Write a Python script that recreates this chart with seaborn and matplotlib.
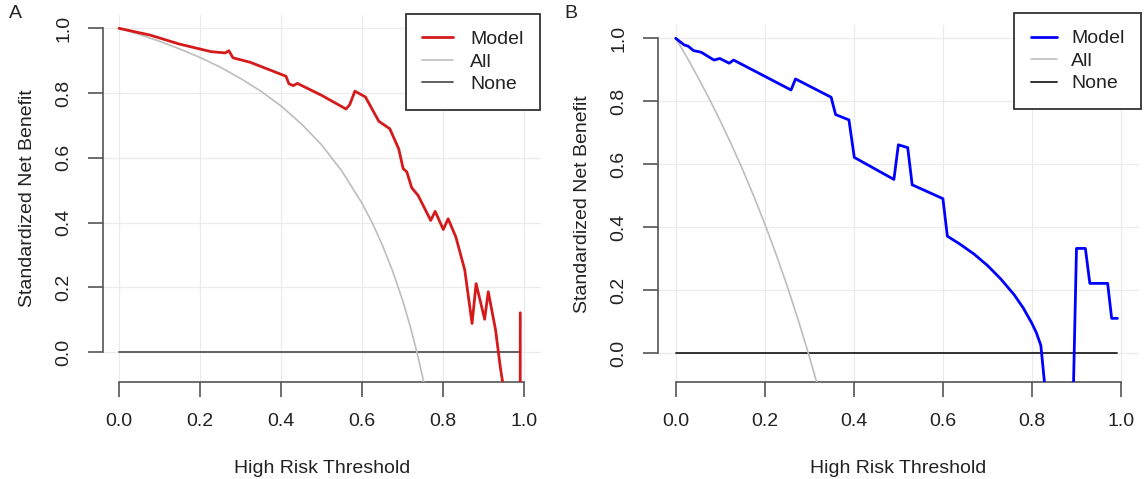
import matplotlib
matplotlib.use("Agg")
import matplotlib.pyplot as plt
import seaborn as sns

sns.set_style("whitegrid")
plt.rcParams["font.family"] = ["Liberation Sans", "DejaVu Sans"]

# Panel A values
A_MODEL_X = [0.0, 0.077, 0.147, 0.2, 0.227, 0.262, 0.271, 0.281, 0.324, 0.412, 0.419, 0.43,
             0.44, 0.5, 0.56, 0.569, 0.582, 0.608, 0.641, 0.668, 0.69, 0.701, 0.71, 0.722,
             0.738, 0.769, 0.78, 0.8, 0.812, 0.831, 0.853, 0.871, 0.881, 0.902, 0.911,
             0.929, 0.941, 0.95, 0.96, 0.975, 0.989, 0.99]
A_MODEL_Y = [1.0, 0.979, 0.952, 0.936, 0.928, 0.924, 0.931, 0.909, 0.895, 0.852, 0.829, 0.823,
             0.830, 0.793, 0.751, 0.764, 0.806, 0.788, 0.713, 0.690, 0.628, 0.567, 0.557, 0.508,
             0.484, 0.407, 0.435, 0.379, 0.412, 0.356, 0.254, 0.089, 0.212, 0.102, 0.187,
             0.069, -0.049, -0.12, -0.4, -0.8, -1.2, 0.122]
A_ALL_X = [0.0, 0.05, 0.1, 0.15, 0.2, 0.25, 0.3, 0.35, 0.4, 0.45, 0.5, 0.55, 0.6, 0.625,
           0.65, 0.675, 0.7, 0.72, 0.735, 0.75, 0.76]
A_ALL_Y = [1.0, 0.981, 0.960, 0.936, 0.910, 0.880, 0.845, 0.806, 0.760, 0.705, 0.640, 0.559,
           0.459, 0.399, 0.330, 0.251, 0.159, 0.073, 0.0, -0.082, -0.142]

# Panel B values
B_MODEL_X = [0.0, 0.019, 0.028, 0.04, 0.057, 0.086, 0.099, 0.12, 0.13, 0.259, 0.269, 0.349,
             0.359, 0.389, 0.401, 0.49, 0.5, 0.521, 0.531, 0.6, 0.61, 0.64, 0.67, 0.70,
             0.73, 0.76, 0.78, 0.80, 0.81, 0.82, 0.83, 0.86, 0.893, 0.9, 0.92, 0.93, 0.97,
             0.979, 0.992]
B_MODEL_Y = [1.0, 0.979, 0.975, 0.961, 0.956, 0.931, 0.936, 0.921, 0.931, 0.836, 0.871, 0.813,
             0.758, 0.741, 0.622, 0.552, 0.662, 0.653, 0.535, 0.491, 0.372, 0.345, 0.315, 0.279,
             0.236, 0.186, 0.145, 0.095, 0.065, 0.025, -0.12, -0.6, -0.12, 0.333, 0.333, 0.222,
             0.222, 0.111, 0.111]
B_ALL_X = [0.0, 0.025, 0.05, 0.075, 0.1, 0.125, 0.15, 0.175, 0.2, 0.225, 0.25, 0.275, 0.3, 0.32]
B_ALL_Y = [1.0, 0.940, 0.876, 0.809, 0.738, 0.663, 0.584, 0.500, 0.411, 0.316, 0.215, 0.106,
           -0.010, -0.109]

NONE_X = [0.0, 0.99]
NONE_Y = [0.0, 0.0]

TICKS = [0.0, 0.2, 0.4, 0.6, 0.8, 1.0]
TICK_LABELS = ["0.0", "0.2", "0.4", "0.6", "0.8", "1.0"]

FS = 14
AXIS_COL = "#555555"
TEXT_COL = "#222222"


def style_axes(ax):
    ax.set_xlim(-0.04, 1.04)
    ax.set_ylim(-0.092, 1.042)
    ax.set_xticks(TICKS)
    ax.set_yticks(TICKS)
    ax.set_xticklabels(TICK_LABELS, fontsize=FS, color=TEXT_COL)
    ax.set_yticklabels(TICK_LABELS, fontsize=FS, color=TEXT_COL, rotation=90, va="center")
    ax.grid(True, color="#EBEBEB", lw=0.9)
    for s in ["top", "right"]:
        ax.spines[s].set_visible(False)
    for s in ["left", "bottom"]:
        ax.spines[s].set_visible(True)
        ax.spines[s].set_color(AXIS_COL)
        ax.spines[s].set_linewidth(1.2)
        ax.spines[s].set_bounds(0, 1)
    ax.tick_params(axis="both", direction="out", length=11, width=1.2, color=AXIS_COL,
                   pad=11, left=True, bottom=True)
    ax.set_xlabel("High Risk Threshold", fontsize=FS, color=TEXT_COL, labelpad=22)
    ax.set_ylabel("Standardized Net Benefit", fontsize=FS, color=TEXT_COL, labelpad=14)


fig = plt.figure(figsize=(11.45, 4.79), dpi=100)
axA = fig.add_axes([0.0898, 0.2023, 0.3823, 0.767])
axB = fig.add_axes([0.5746, 0.2019, 0.42, 0.7457])

panels = [
    (axA, A_MODEL_X, A_MODEL_Y, A_ALL_X, A_ALL_Y, "#D41A1A", "#555555",
     (0.4716, 0.9708), "upper right", 1.55, 0.9),
    (axB, B_MODEL_X, B_MODEL_Y, B_ALL_X, B_ALL_Y, "#0000FF", "#222222",
     (0.8856, 0.9722), "upper left", 1.35, 0.75),
]

for ax, mx, my, ax_x, ax_y, mcol, ncol, anchor, loc, hlen, hpad in panels:
    sns.lineplot(x=NONE_X, y=NONE_Y, ax=ax, color=ncol, lw=1.3, estimator=None, sort=False,
                 label="None", zorder=3)
    sns.lineplot(x=ax_x, y=ax_y, ax=ax, color="#BDBDBD", lw=1.2, estimator=None, sort=False,
                 label="All", zorder=3)
    sns.lineplot(x=mx, y=my, ax=ax, color=mcol, lw=2.0, estimator=None, sort=False,
                 label="Model", zorder=4)
    style_axes(ax)
    handles, labels = ax.get_legend_handles_labels()
    order = [labels.index(k) for k in ["Model", "All", "None"]]
    leg = ax.legend([handles[i] for i in order], [labels[i] for i in order],
                    loc=loc, bbox_to_anchor=anchor, bbox_transform=fig.transFigure,
                    borderaxespad=0, fontsize=FS, frameon=True, fancybox=False,
                    handlelength=hlen, handletextpad=hpad, labelspacing=0.25,
                    borderpad=0.85, edgecolor="#333333", framealpha=1)
    leg.get_frame().set_linewidth(1.3)
    for t in leg.get_texts():
        t.set_color(TEXT_COL)

fig.text(0.008, 0.962, "A", fontsize=14, color=TEXT_COL)
fig.text(0.493, 0.962, "B", fontsize=14, color=TEXT_COL)

fig.savefig("out.png", dpi=100)
